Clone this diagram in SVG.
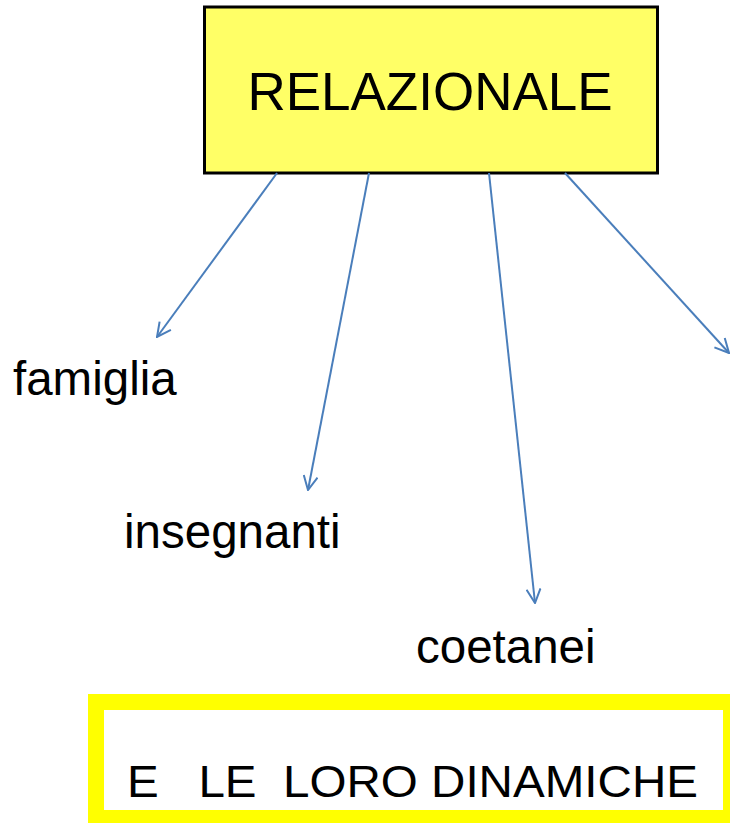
<svg xmlns="http://www.w3.org/2000/svg" width="730" height="823" viewBox="0 0 730 823">
<style>
.t{font-family:"Liberation Sans",Arial,sans-serif;fill:#000}
.c{stroke:#4a7ebb;stroke-width:2;fill:none;marker-end:url(#ah)}
</style>
<defs>
<marker id="ah" viewBox="0 0 16 16" refX="15" refY="8" markerWidth="16" markerHeight="16" markerUnits="userSpaceOnUse" orient="auto">
<path d="M1,1 L15,8 L1,15" fill="none" stroke="#4a7ebb" stroke-width="2"/>
</marker>
</defs>
<rect width="730" height="823" fill="#fff"/>
<g id="relazionale">
<rect x="204.5" y="7" width="453" height="166" fill="#ffff66" stroke="#000" stroke-width="3"/>
<text class="t" x="430" y="110" font-size="53" text-anchor="middle">RELAZIONALE</text>
</g>
<g id="famiglia"><text class="t" x="13" y="395" font-size="47.5">famiglia</text></g>
<g id="insegnanti"><text class="t" x="124" y="548" font-size="47.5">insegnanti</text></g>
<g id="coetanei"><text class="t" x="416" y="663" font-size="47.5">coetanei</text></g>
<g id="dinamiche">
<rect x="96" y="702" width="635" height="116" fill="#fff" stroke="#ffff00" stroke-width="16"/>
<text class="t" x="127" y="797" font-size="44" xml:space="preserve" textLength="571" lengthAdjust="spacingAndGlyphs">E   LE  LORO DINAMICHE</text>
</g>
<g id="connectors">
<line class="c" x1="277" y1="173" x2="157" y2="337"/>
<line class="c" x1="369" y1="173" x2="308" y2="490"/>
<line class="c" x1="489" y1="173" x2="535" y2="603"/>
<line class="c" x1="565" y1="173" x2="729" y2="353"/>
</g>
</svg>
